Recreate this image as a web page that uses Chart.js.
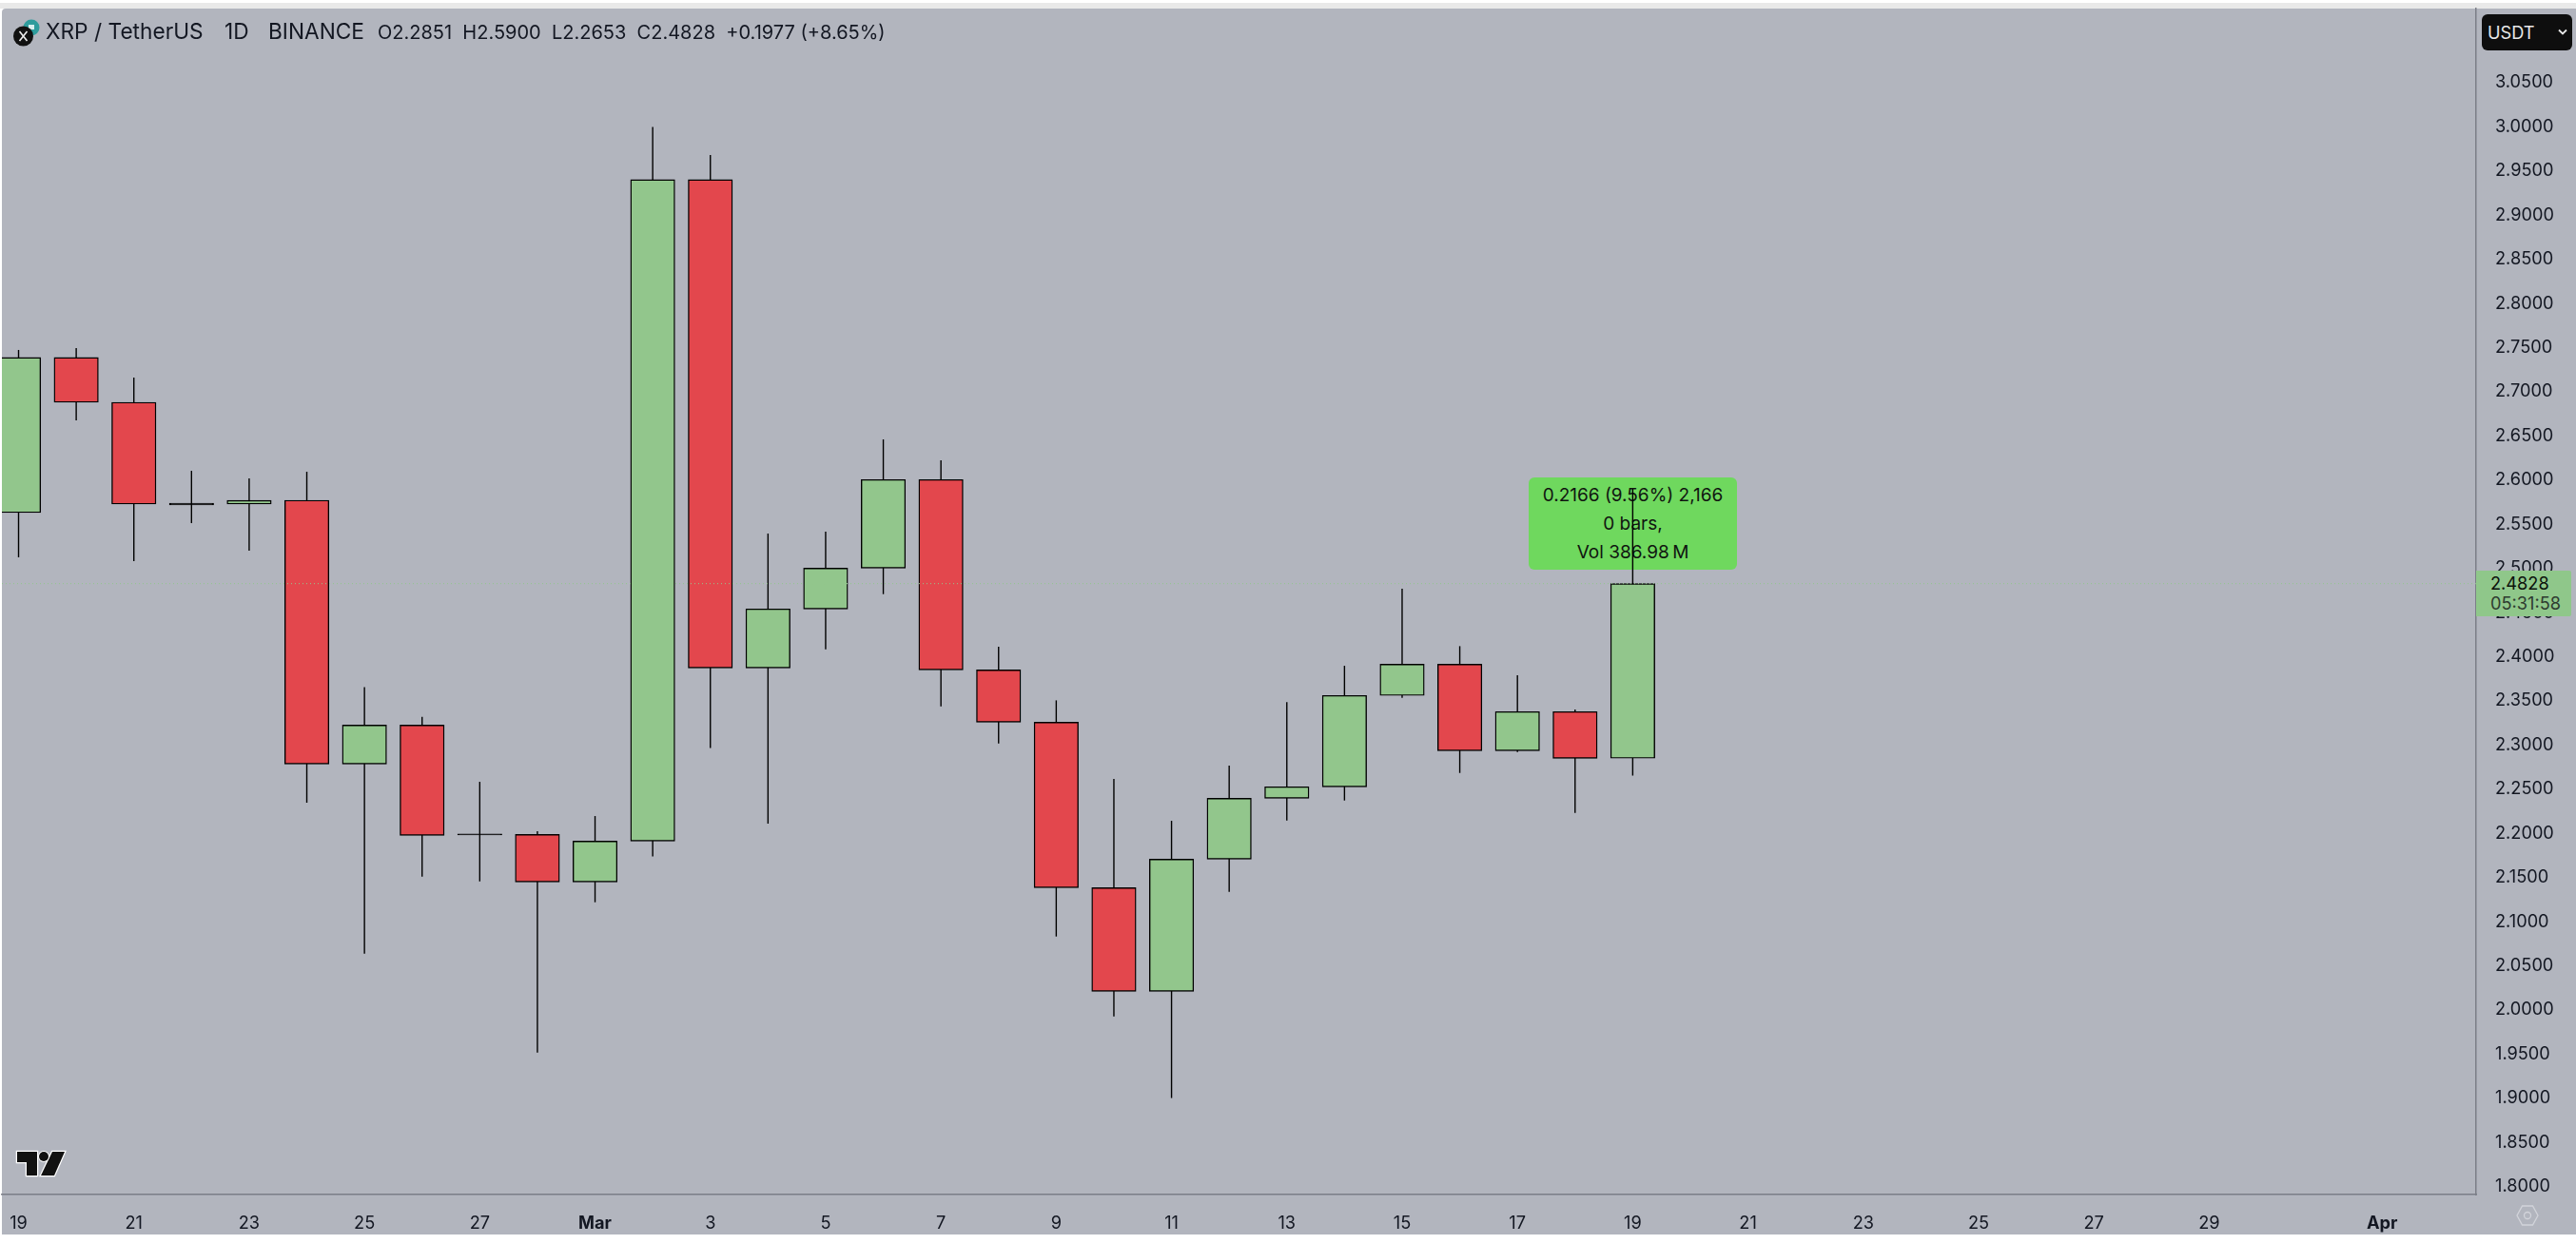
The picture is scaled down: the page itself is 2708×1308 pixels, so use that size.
<!DOCTYPE html>
<html>
<head>
<meta charset="utf-8">
<title>XRP / TetherUS</title>
<script src="https://cdn.jsdelivr.net/npm/chart.js@4"></script>
<style>
  html, body { margin: 0; padding: 0; background: #fff; }
  body { width: 2708px; height: 1308px; overflow: hidden; position: relative; font-family: Inter, sans-serif; color: #131722; }
  #topband { position: absolute; left: 0; top: 3px; width: 2708px; height: 6px; background: #e9e9e9; }
  #pane { position: absolute; left: 2px; top: 9px; width: 2706px; height: 1289px; background: #b2b5be; border-radius: 4px 0 0 0; }
  #chart { position: absolute; left: 0; top: 0; z-index: 2; }
  .abs { position: absolute; white-space: nowrap; z-index: 3; }
  #measure { position: absolute; left: 1607px; top: 502px; width: 219px; height: 97px; background: #6fd85e; border-radius: 6px; z-index: 1; text-align: center; font-size: 19px; color: #101510; }
  #measure div { position: absolute; left: 0; width: 100%; line-height: 30px; }
  #usdt { left: 2609px; top: 15px; width: 95px; height: 38px; background: #0e0e0e; border-radius: 6px; color: #e8e8e8; font-size: 18.2px; line-height: 38px; text-indent: 6px; }
  #lastprice { left: 2603px; top: 600px; width: 100px; height: 48px; background: #8fc78a; border-radius: 0 2px 2px 0; font-size: 18.2px; }
  #lastprice div { position: absolute; left: 15px; line-height: 20px; }
</style>
</head>
<body>
<div id="topband"></div>
<div id="pane"></div>
<div id="measure">
  <div style="top:4px">0.2166 (9.56%) 2,166</div>
  <div style="top:34px">0 bars,</div>
  <div style="top:64px">Vol 386.98&#8201;M</div>
</div>
<canvas id="chart" width="2708" height="1308"></canvas>

<svg class="abs" style="left:12px;top:19px" width="32" height="30" viewBox="0 0 32 30">
  <circle cx="21" cy="10" r="8.5" fill="#2e9c9c"/>
  <rect x="18" y="7" width="6" height="5" fill="#d8efef"/>
  <circle cx="12.500" cy="19" r="10.500" fill="#111"/>
  <path d="M8.500 14 L16.500 24 M16.500 14 L8.500 24" stroke="#eee" stroke-width="1.600"/>
</svg>
<div class="abs" style="left:48px;top:20px;font-size:22.7px;line-height:26px">XRP / TetherUS</div>
<div class="abs" style="left:236px;top:20px;font-size:22.7px;line-height:26px">1D</div>
<div class="abs" style="left:282px;top:20px;font-size:22.7px;line-height:26px">BINANCE</div>
<div class="abs" style="left:397px;top:22px;font-size:20px;line-height:24px">O2.2851 &nbsp;H2.5900 &nbsp;L2.2653 &nbsp;C2.4828 &nbsp;+0.1977 (+8.65%)</div>

<div class="abs" id="usdt">USDT
  <svg style="position:absolute;left:80px;top:15px" width="10" height="8" viewBox="0 0 10 8"><path d="M1 1.500 L5 5.500 L9 1.500" fill="none" stroke="#e8e8e8" stroke-width="1.800"/></svg>
</div>
<div class="abs" id="lastprice">
  <div style="top:3px;color:#0c120c">2.4828</div>
  <div style="top:24px;color:#2e3b30">05:31:58</div>
</div>

<svg class="abs" style="left:15px;top:1208px" width="56" height="31" viewBox="0 0 56 31">
  <path d="M3 3 H24 V28 H13 V14 H3 Z" fill="#111" stroke="#fff" stroke-width="2.500" paint-order="stroke"/>
  <path d="M40 3 H53 L42 28 H28 Z" fill="#111" stroke="#fff" stroke-width="2.500" paint-order="stroke"/>
  <circle cx="31" cy="8" r="5" fill="#111" stroke="#fff" stroke-width="2" paint-order="stroke"/>
</svg>
<svg class="abs" style="left:2645px;top:1267px" width="24" height="22" viewBox="0 0 24 22">
  <path d="M6.500 1 H17.500 L23 11 L17.500 21 H6.500 L1 11 Z" fill="none" stroke="#d2d4da" stroke-width="1.300"/>
  <circle cx="12" cy="11" r="3.500" fill="none" stroke="#d2d4da" stroke-width="1.300"/>
</svg>

<script>
// candles, one per day starting 19 Feb
const days   = [0,1,2,3,4,5,6,7,8,9,10,11,12,13,14,15,16,17,18,19,20,21,22,23,24,25,26,27,28];
const opens  = [2.5632,2.7388,2.6881,2.5740,2.5729,2.5772,2.2785,2.3227,2.1994,2.1988,2.1450,2.1913,2.9403,2.3873,2.4541,2.5004,2.6006,2.3851,2.3259,2.1385,2.0211,2.1708,2.2397,2.2527,2.3561,2.3916,2.2936,2.3378,2.2851];
const highs  = [2.7474,2.7495,2.7161,2.6106,2.6020,2.6095,2.3655,2.3320,2.2584,2.2024,2.2196,2.9998,2.9682,2.5395,2.5416,2.6461,2.6224,2.4113,2.3506,2.2616,2.2142,2.2767,2.3487,2.3898,2.4771,2.4120,2.3790,2.3403,2.5900];
const lows   = [2.5126,2.6677,2.5083,2.5513,2.5201,2.2347,2.0638,2.1510,2.1456,1.9518,2.1220,2.1739,2.2967,2.2111,2.4084,2.4709,2.3438,2.3018,2.0832,1.9927,1.9004,2.1338,2.2146,2.2372,2.3535,2.2684,2.2921,2.2232,2.2653];
const closes = [2.7388,2.6881,2.5729,2.5718,2.5771,2.2785,2.3227,2.1977,2.1981,2.1450,2.1913,2.9403,2.3873,2.4541,2.5004,2.6006,2.3851,2.3259,2.1385,2.0211,2.1708,2.2397,2.2527,2.3561,2.3916,2.2936,2.3378,2.2850,2.4828];

const priceTicks = [3.05,3.00,2.95,2.90,2.85,2.80,2.75,2.70,2.65,2.60,2.55,2.50,2.45,2.40,2.35,2.30,2.25,2.20,2.15,2.10,2.05,2.00,1.95,1.90,1.85,1.80];
const dayTicks   = [0,2,4,6,8,10,12,14,16,18,20,22,24,26,28,30,32,34,36,38,41];
const dayLabels  = ['19','21','23','25','27','Mar','3','5','7','9','11','13','15','17','19','21','23','25','27','29','Apr'];
const boldLabels = ['Mar','Apr'];

const GREEN = '#92c68c';
const RED = '#e3474d';
const LAST_LINE = '#92c68c';
const AXIS_LINE = '#7b7e87';
const xMin = -0.289, xMax = 42.63;
const yMin = 1.791, yMax = 3.134;

function isUp(i) {
  return closes[i] > opens[i];
}

new Chart(document.getElementById('chart').getContext('2d'), {
  data: {
    datasets: [
      {
        type: 'line',
        order: 0,
        data: [{ x: xMin, y: closes[closes.length - 1] }, { x: xMax, y: closes[closes.length - 1] }],
        borderColor: LAST_LINE,
        borderWidth: 1,
        borderDash: [1, 3],
        pointRadius: 0
      },
      {
        type: 'bar',
        order: 1,
        grouped: false,
        data: days.map((d, i) => ({ x: d, y: [opens[i], closes[i]] })),
        backgroundColor: days.map((d, i) => {
          if (Math.abs(closes[i] - opens[i]) < 0.003) return '#000';
          return isUp(i) ? GREEN : RED;
        }),
        borderColor: '#000',
        borderWidth: 1.4,
        borderSkipped: false,
        barThickness: 46.5
      },
      {
        type: 'bar',
        order: 2,
        grouped: false,
        data: days.map((d, i) => ({ x: d, y: [lows[i], highs[i]] })),
        backgroundColor: '#000',
        borderWidth: 0,
        inflateAmount: 0,
        barThickness: 1.4
      }
    ]
  },
  options: {
    responsive: false,
    animation: false,
    events: [],
    layout: { padding: { left: 2, top: 9, bottom: 10, right: 0 } },
    plugins: { legend: { display: false }, tooltip: { enabled: false } },
    scales: {
      x: {
        type: 'linear',
        offset: false,
        min: xMin,
        max: xMax,
        grid: { display: false },
        border: { display: true, color: AXIS_LINE, width: 1.5 },
        afterFit: function(scale) {
          scale.height = 42;
          scale.paddingLeft = 0;
          scale.paddingRight = 0;
        },
        afterBuildTicks: function(scale) { scale.ticks = dayTicks.map(v => ({ value: v })); },
        ticks: {
          autoSkip: false,
          maxRotation: 0,
          padding: 12,
          color: '#131722',
          font: function(ctx) {
            const label = ctx.tick ? dayLabels[dayTicks.indexOf(ctx.tick.value)] : '';
            return { family: 'Inter', size: 18.2, weight: boldLabels.includes(label) ? '700' : '400' };
          },
          callback: function(value) { return dayLabels[dayTicks.indexOf(value)]; }
        }
      },
      y: {
        type: 'linear',
        position: 'right',
        min: yMin,
        max: yMax,
        grid: { display: false },
        border: { display: true, color: AXIS_LINE, width: 1.5 },
        afterFit: function(scale) {
          scale.width = 105;
          scale.paddingTop = 0;
          scale.paddingBottom = 0;
        },
        afterBuildTicks: function(scale) { scale.ticks = priceTicks.map(v => ({ value: v })); },
        ticks: {
          autoSkip: false,
          padding: 12,
          color: '#131722',
          font: { family: 'Inter', size: 18.2 },
          callback: function(value) { return value.toFixed(4); }
        }
      }
    }
  }
});
</script>
</body>
</html>
